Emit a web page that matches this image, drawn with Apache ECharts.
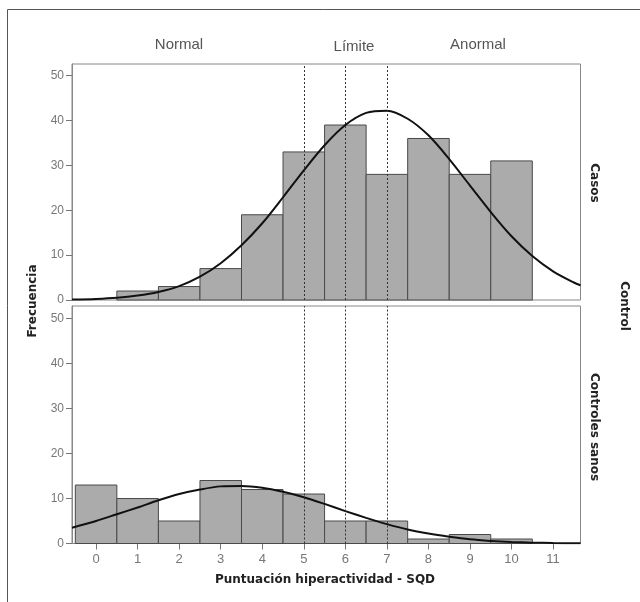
<!DOCTYPE html>
<html>
<head>
<meta charset="utf-8">
<script src="https://cdn.jsdelivr.net/npm/echarts@6/dist/echarts.min.js"></script>
<style>
	html, body { margin: 0; padding: 0; background: #fff; }
	#main { width: 640px; height: 602px; }
</style>
</head>
<body>
<div id="main"></div>
<script>
// histogram bins (SQD hyperactivity score) and counts per group
var bins = [0, 1, 2, 3, 4, 5, 6, 7, 8, 9, 10];
var casos = [0, 2, 3, 7, 19, 33, 39, 28, 36, 28, 31];
var controles = [13, 10, 5, 14, 12, 11, 5, 5, 1, 2, 1];

// fitted normal curves
var curveX = [-0.58, 0, 0.5, 1, 1.5, 2, 2.5, 3, 3.5, 4, 4.5, 5, 5.5, 6, 6.5, 7, 7.5, 8, 8.5, 9, 9.5, 10, 10.5, 11, 11.5, 11.66];
var casosCurve = [0.1, 0.24, 0.5, 1.0, 1.8, 3.1, 5.2, 8.2, 12.2, 17.1, 22.9, 28.9, 34.5, 39.0, 41.7, 42.2, 40.4, 36.7, 31.4, 25.5, 19.6, 14.2, 9.8, 6.4, 3.9, 3.3];
var controlesCurve = [3.5, 5.0, 6.5, 8.0, 9.6, 11.0, 12.0, 12.7, 12.8, 12.4, 11.5, 10.3, 8.8, 7.2, 5.7, 4.3, 3.1, 2.2, 1.5, 0.93, 0.58, 0.34, 0.19, 0.1, 0.05, 0.04];

var xTicks = [0, 1, 2, 3, 4, 5, 6, 7, 8, 9, 10, 11];
var yTicks = [0, 10, 20, 30, 40, 50];
var cutoffs = [5, 6, 7];

function pairs(xs, ys) {
	return xs.map(function (x, i) { return [x, ys[i]]; });
}

function renderBar(params, api) {
	var x = api.value(0), y = api.value(1);
	if (!y) return;
	var p0 = api.coord([x - 0.5, y]);
	var p1 = api.coord([x + 0.5, 0]);
	return {
		type: 'rect',
		shape: { x: p0[0], y: p0[1], width: p1[0] - p0[0], height: p1[1] - p0[1] },
		style: { fill: '#ababab', stroke: '#4a4a4a', lineWidth: 1 }
	};
}

var cutLines = {
	silent: true,
	symbol: 'none',
	label: { show: false },
	lineStyle: { color: '#333', width: 1, type: [2, 2] },
	data: cutoffs.map(function (c) { return { xAxis: c }; })
};

function xAxisCfg(idx, showLabels) {
	return {
		type: 'value',
		gridIndex: idx,
		min: -0.58,
		max: 11.66,
		splitLine: { show: false },
		axisLine: { show: showLabels, onZero: false, lineStyle: { color: '#888' } },
		axisTick: { show: showLabels, length: 6, customValues: xTicks, lineStyle: { color: '#777' } },
		axisLabel: { show: showLabels, customValues: xTicks, margin: 9, fontSize: 13, color: '#777', fontFamily: 'Liberation Sans' }
	};
}

function yAxisCfg(idx, max) {
	return {
		type: 'value',
		gridIndex: idx,
		min: 0,
		max: max,
		splitLine: { show: false },
		axisLine: { show: true, onZero: false, lineStyle: { color: '#888' } },
		axisTick: { show: true, length: 6, customValues: yTicks, lineStyle: { color: '#777' } },
		axisLabel: { customValues: yTicks, margin: 8, fontSize: 12, color: '#777', fontFamily: 'Liberation Sans' }
	};
}

var boldText = { fontFamily: 'DejaVu Sans', fontWeight: 'bold', fontSize: 12, fill: '#222', align: 'center', verticalAlign: 'middle' };
var grayText = { fontFamily: 'Liberation Sans', fontSize: 15, fill: '#555', align: 'center', verticalAlign: 'middle' };

var option = {
	animation: false,
	grid: [
		{ left: 72, top: 64, width: 508.5, height: 236, show: true, borderColor: '#888', borderWidth: 1, backgroundColor: 'transparent' },
		{ left: 72, top: 306, width: 508.5, height: 237.5, show: true, borderColor: '#888', borderWidth: 1, backgroundColor: 'transparent' }
	],
	xAxis: [xAxisCfg(0, false), xAxisCfg(1, true)],
	yAxis: [yAxisCfg(0, 52.6), yAxisCfg(1, 52.8)],
	series: [
		{ type: 'custom', xAxisIndex: 0, yAxisIndex: 0, renderItem: renderBar, data: pairs(bins, casos) },
		{ type: 'custom', xAxisIndex: 1, yAxisIndex: 1, renderItem: renderBar, data: pairs(bins, controles) },
		{ type: 'line', xAxisIndex: 0, yAxisIndex: 0, smooth: 0.3, symbol: 'none', data: pairs(curveX, casosCurve),
			lineStyle: { color: '#111', width: 2 }, markLine: cutLines, z: 3 },
		{ type: 'line', xAxisIndex: 1, yAxisIndex: 1, smooth: 0.3, symbol: 'none', data: pairs(curveX, controlesCurve),
			lineStyle: { color: '#111', width: 2 }, markLine: cutLines, z: 3 }
	],
	graphic: [
		{ type: 'line', shape: { x1: 7.5, y1: 9.5, x2: 640, y2: 9.5 }, style: { stroke: '#555', lineWidth: 1 } },
		{ type: 'line', shape: { x1: 7.5, y1: 9.5, x2: 7.5, y2: 602 }, style: { stroke: '#555', lineWidth: 1 } },
		{ type: 'text', x: 179, y: 45, style: Object.assign({ text: 'Normal' }, grayText) },
		{ type: 'text', x: 354, y: 47, style: Object.assign({ text: 'Límite' }, grayText) },
		{ type: 'text', x: 478, y: 45, style: Object.assign({ text: 'Anormal' }, grayText) },
		{ type: 'text', x: 33, y: 301, rotation: Math.PI / 2, style: Object.assign({ text: 'Frecuencia' }, boldText) },
		{ type: 'text', x: 325, y: 580, style: Object.assign({ text: 'Puntuación hiperactividad - SQD' }, boldText) },
		{ type: 'text', x: 594, y: 183, rotation: -Math.PI / 2, style: Object.assign({ text: 'Casos' }, boldText) },
		{ type: 'text', x: 594, y: 427, rotation: -Math.PI / 2, style: Object.assign({ text: 'Controles sanos' }, boldText) },
		{ type: 'text', x: 624, y: 306, rotation: -Math.PI / 2, style: Object.assign({ text: 'Control' }, boldText) }
	]
};

var chart = echarts.init(document.getElementById('main'));
chart.setOption(option);
</script>
</body>
</html>
